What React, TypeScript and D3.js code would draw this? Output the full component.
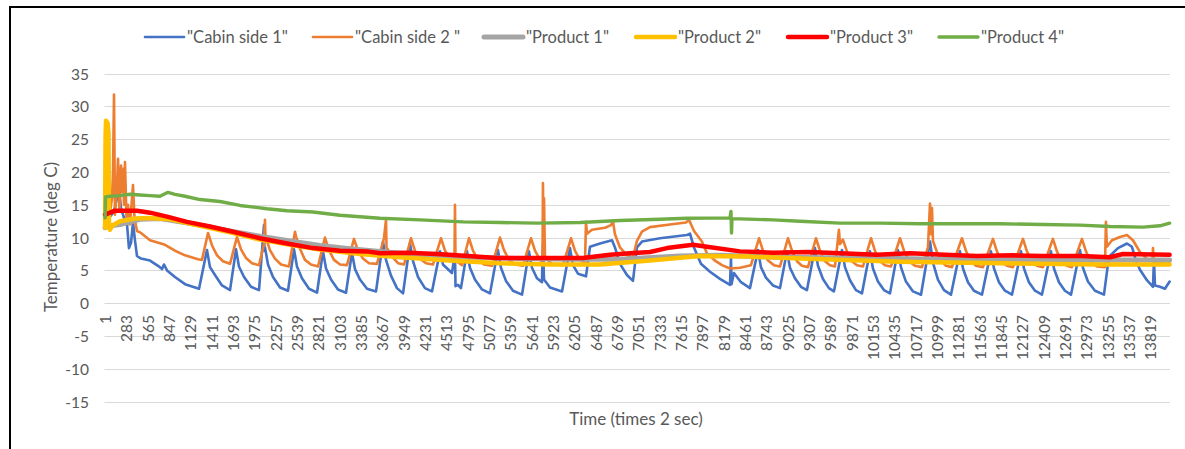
import React from 'react';
import * as d3 from 'd3';

const W = 1185;
const H = 449;

const yTicks = [-15, -10, -5, 0, 5, 10, 15, 20, 25, 30, 35];
const xTickLabels = [1, 283, 565, 847, 1129, 1411, 1693, 1975, 2257, 2539, 2821, 3103, 3385, 3667, 3949, 4231, 4513, 4795, 5077, 5359, 5641, 5923, 6205, 6487, 6769, 7051, 7333, 7615, 7897, 8179, 8461, 8743, 9025, 9307, 9589, 9871, 10153, 10435, 10717, 10999, 11281, 11563, 11845, 12127, 12409, 12691, 12973, 13255, 13537, 13819];
const seriesNames = ['"Cabin side 1"', '"Cabin side 2 "', '"Product 1"', '"Product 2"', '"Product 3"', '"Product 4"'];

type P = [number, number];

const cabinSide1: P[] = [[1,12.8],[66,13.2],[119,14.0],[159,16.0],[185,17.3],[212,14.5],[251,13.0],[291,12.0],[317,8.4],[344,9.2],[370,12.3],[397,9.5],[423,7.2],[476,6.8],[595,6.5],[701,5.7],[754,5.2],[780,5.9],[820,5.0],[925,4.0],[1058,2.9],[1243,2.2],
[1348,8.1],[1388,5.5],[1454,4.3],[1547,2.7],[1653,2.0],
[1732,8.2],[1771,5.6],[1838,4.0],[1930,2.5],[2036,2.0],
[2102,11.9],[2108,8.0],[2115,8.5],[2155,5.9],[2221,4.0],[2314,2.4],[2419,1.9],
[2499,8.2],[2538,5.6],[2604,3.8],[2697,2.2],[2803,1.6],
[2882,7.9],[2922,5.3],[2988,3.6],[3080,2.1],[3186,1.6],
[3265,7.7],[3305,5.2],[3371,3.6],[3464,2.2],[3583,1.8],
[3675,9.4],[3715,6.6],[3781,4.2],[3860,2.3],[3940,1.5],
[4032,9.1],[4072,6.4],[4138,4.0],[4230,2.3],[4323,1.8],
[4429,7.9],[4468,5.9],[4587,4.6],[4627,7.6],[4634,2.6],[4667,2.8],[4706,2.3],
[4786,7.9],[4825,5.4],[4891,3.6],[4984,2.1],[5090,1.5],
[5195,8.1],[5235,5.4],[5301,3.4],[5394,1.9],[5513,1.3],
[5605,7.9],[5645,5.4],[5711,3.8],[5777,3.2],[5790,8.9],[5804,3.6],[5883,2.4],[6042,1.8],
[6147,8.4],[6187,5.8],[6253,4.5],[6359,4.1],
[6412,8.6],[6544,9.1],[6703,9.6],[6742,8.5],[6808,6.0],[6901,4.3],[6980,3.4],
[7033,8.5],[7099,9.4],[7337,9.9],[7694,10.4],[7734,10.6],[7787,8.5],[7879,6.0],[7998,4.8],[8130,3.7],[8263,2.8],[8276,6.9],[8283,2.9],[8315,4.6],[8408,3.2],[8527,2.3],
[8633,8.1],[8672,5.5],[8738,3.9],[8831,2.7],[8924,2.3],
[9016,7.9],[9056,5.4],[9122,3.8],[9201,2.5],[9280,2.0],
[9386,8.4],[9426,5.7],[9492,3.7],[9571,2.3],[9637,1.8],
[9743,8.1],[9783,5.5],[9849,3.5],[9928,2.0],[10008,1.5],
[10113,7.9],[10153,5.3],[10219,3.3],[10298,2.0],[10378,1.5],
[10483,8.1],[10523,5.5],[10589,3.3],[10682,1.8],[10788,1.3],
[10907,9.4],[10946,6.2],[11012,3.6],[11092,2.0],[11184,1.3],
[11303,7.9],[11343,5.3],[11409,3.2],[11488,1.9],[11594,1.3],
[11713,7.9],[11753,5.3],[11819,3.2],[11898,1.9],[11991,1.3],
[12110,7.9],[12149,5.3],[12215,3.2],[12295,1.9],[12387,1.3],
[12506,7.9],[12546,5.3],[12612,3.2],[12691,1.9],[12771,1.3],
[12890,8.1],[12929,5.4],[12995,3.3],[13088,1.9],[13207,1.3],
[13273,7.1],[13392,8.4],[13511,9.1],[13577,8.6],[13630,6.5],[13683,5.1],[13775,3.5],[13855,2.5],[13868,6.6],[13881,2.7],[13947,2.5],[14013,2.2],[14075,3.3]];

const cabinSide2: P[] = [[1,13.0],[8,22.9],[20,12.0],[66,14.0],[93,16.0],[106,20.0],[119,31.8],[132,13.5],[159,18.0],[172,22.0],[192,14.0],[212,21.0],[225,17.0],[238,20.5],[251,15.0],[264,21.5],[284,13.0],[304,15.0],[330,12.0],[357,16.0],[370,18.0],[390,13.0],[423,11.0],[463,10.8],[595,9.6],[793,8.9],[925,8.0],[1058,7.3],[1229,6.7],[1282,6.6],
[1362,10.7],[1415,8.8],[1481,7.3],[1560,6.4],[1653,6.0],
[1745,10.1],[1798,8.2],[1864,6.9],[1943,6.1],[2036,5.8],
[2102,9.0],[2115,12.7],[2122,9.8],[2128,10.0],[2181,8.1],[2247,6.8],[2327,5.9],[2432,5.6],
[2512,10.9],[2525,10.2],[2578,8.3],[2644,6.6],[2723,5.9],[2816,5.6],
[2908,10.0],[2961,8.1],[3027,6.6],[3107,5.9],[3199,5.8],
[3292,9.8],[3345,8.0],[3411,6.8],[3490,6.1],[3596,6.0],
[3688,9.9],[3715,12.7],[3722,8.5],[3754,7.9],[3820,6.8],[3873,6.1],[3953,5.9],
[4045,9.9],[4098,8.0],[4164,6.8],[4244,6.1],[4336,5.9],
[4442,9.9],[4495,8.0],[4561,6.8],[4620,6.3],[4627,15.0],[4634,6.5],[4720,5.8],
[4812,9.9],[4865,8.0],[4931,6.6],[5010,5.9],[5116,5.7],
[5222,10.0],[5275,8.1],[5341,6.6],[5420,5.9],[5526,5.7],
[5632,9.9],[5685,8.0],[5751,6.6],[5784,6.3],[5790,18.3],[5797,11.0],[5804,16.0],[5817,7.0],[5909,6.0],[6055,5.8],
[6161,9.9],[6213,8.0],[6279,6.6],[6346,6.2],
[6359,12.4],[6372,10.6],[6438,11.2],[6610,11.5],[6690,11.9],[6716,12.5],[6742,10.5],[6808,8.5],[6901,7.3],[6980,7.0],
[7033,9.5],[7099,10.9],[7205,11.6],[7469,12.0],[7681,12.3],[7721,12.7],[7787,11.0],[7892,9.4],[7958,7.6],[8064,6.5],[8157,5.8],[8263,5.3],[8395,5.4],[8540,5.8],
[8646,9.9],[8699,8.0],[8765,6.5],[8844,5.8],[8924,5.6],
[9029,9.9],[9082,8.0],[9148,6.4],[9214,5.7],[9294,5.5],
[9399,9.9],[9452,8.0],[9518,6.4],[9585,5.8],[9651,5.6],
[9703,11.2],[9717,9.0],[9756,9.7],[9809,7.9],[9875,6.4],[9941,5.8],[10021,5.6],
[10127,9.9],[10179,8.0],[10246,6.4],[10312,5.8],[10391,5.6],
[10510,9.9],[10563,8.0],[10629,6.4],[10708,5.7],[10801,5.5],
[10880,8.5],[10907,15.2],[10920,10.5],[10933,14.5],[10946,9.5],[10999,7.8],[11065,6.3],[11118,5.7],[11197,5.5],
[11329,9.9],[11382,8.0],[11448,6.4],[11515,5.7],[11607,5.5],
[11739,9.8],[11792,7.9],[11858,6.3],[11924,5.7],[12004,5.5],
[12136,9.8],[12189,7.9],[12255,6.3],[12321,5.7],[12400,5.5],
[12532,9.8],[12585,7.9],[12651,6.3],[12718,5.7],[12784,5.5],
[12916,9.8],[12969,7.9],[13035,6.3],[13115,5.6],[13220,5.5],
[13233,12.4],[13246,8.6],[13313,9.6],[13419,10.1],[13511,10.4],[13590,9.6],[13683,7.8],[13788,6.6],[13848,6.5],[13855,8.4],[13868,6.5],[13947,6.2],[14013,6.0],[14075,6.1]];

const product1: P[] = [[1,11.5],[66,11.8],[198,12.0],[463,12.8],[727,12.9],[992,12.4],[1256,11.9],[1653,11.0],[2049,10.2],[2446,9.5],[2842,8.8],[3239,8.3],[3636,7.9],[4164,7.4],[4826,7.0],[5486,6.8],[6147,6.7],[6808,6.7],[7601,7.2],[8130,7.3],[8924,7.0],[9849,6.9],[11171,6.7],[12493,6.6],[14075,6.6]];

const product2: P[] = [[1,11.5],[7,25.0],[13,27.8],[33,27.5],[46,26.0],[53,12.0],[66,11.2],[93,11.8],[198,12.5],[397,12.9],[595,13.0],[859,12.8],[1256,11.8],[1653,10.8],[2049,9.7],[2446,8.9],[2842,8.2],[3371,7.5],[3900,7.0],[4561,6.5],[5222,6.1],[5883,5.9],[6544,5.9],[7205,6.5],[7866,7.2],[8527,7.1],[9188,6.8],[10510,6.3],[11832,6.1],[13154,5.9],[14075,5.9]];

const product3: P[] = [[1,13.5],[132,14.1],[423,14.1],[595,13.8],[820,13.2],[1084,12.4],[1388,11.7],[1692,10.9],[2049,9.9],[2406,9.1],[2750,8.4],[3107,8.0],[3464,7.9],[3636,7.6],[4000,7.7],[4389,7.5],[4800,7.2],[5182,6.9],[5711,6.9],[6319,6.9],[6676,7.4],[6941,7.6],[7205,7.8],[7429,8.4],[7773,8.9],[7958,8.6],[8395,7.9],[8831,7.7],[9300,7.8],[9717,7.6],[10200,7.4],[10642,7.6],[11100,7.4],[11528,7.2],[12000,7.3],[12400,7.2],[12900,7.2],[13286,7.0],[13458,7.5],[14075,7.4]];

const product4: P[] = [[1,13.0],[7,16.2],[66,16.3],[198,16.4],[330,16.6],[463,16.5],[595,16.4],[727,16.3],[833,16.9],[925,16.6],[1058,16.3],[1256,15.8],[1520,15.5],[1785,14.9],[2142,14.4],[2406,14.1],[2750,13.9],[3107,13.4],[3636,12.95],[4164,12.7],[4733,12.4],[5222,12.3],[5711,12.2],[6280,12.3],[6808,12.6],[7337,12.8],[7694,12.95],[8263,13.0],[8276,14.0],[8283,10.7],[8289,12.9],[8831,12.7],[9188,12.5],[9717,12.2],[10246,12.2],[10774,12.1],[11303,12.1],[11832,12.1],[12400,12.0],[12890,11.9],[13286,11.7],[13723,11.6],[13947,11.8],[14075,12.2]];

const seriesData = [cabinSide1, cabinSide2, product1, product2, product3, product4];
const colors = ['#4472C4', '#ED7D31', '#A5A5A5', '#FFC000', '#FF0000', '#70AD47'];
const widths = [2.6, 2.6, 5, 4.5, 4.5, 3.4];
const legendX = [145, 313, 484, 636, 788, 939];

const FONT = 'Lato, "Open Sans", sans-serif';
const TXT = '#595959';

export default function App() {
  const x = d3.scaleLinear().domain([0, 14080]).range([105, 1170]);
  const y = d3.scaleLinear().domain([-15, 35]).range([401.6, 73.6]);
  const line = d3.line<P>().x(d => x(d[0])).y(d => y(d[1]));

  return (
    <svg width={W} height={H} style={{ position: 'absolute', left: 0, top: 0, background: '#fff' }} fontFamily={FONT}>
      <rect x={0} y={0} width={W} height={H} fill="#fff" />
      <rect x={10} y={7} width={1200} height={500} fill="none" stroke="#000" strokeWidth={2} />
      {yTicks.map(t => (
        <g key={t}>
          <line x1={104.5} x2={1170} y1={Math.round(y(t)) + 0.5} y2={Math.round(y(t)) + 0.5} stroke="#d9d9d9" strokeWidth={1} />
          <text x={89} y={y(t)} textAnchor="end" dominantBaseline="central" fontSize={15.5} fill={TXT}>{t}</text>
        </g>
      ))}
      {xTickLabels.map(t => (
        <text key={t} transform={`translate(${x(t)},315) rotate(-90)`} textAnchor="end" dominantBaseline="central" fontSize={15.5} fill={TXT}>{t}</text>
      ))}
      <text transform="translate(50,237) rotate(-90)" textAnchor="middle" dominantBaseline="central" fontSize={17} fill={TXT}>Temperature (deg C)</text>
      <text x={636} y={418} textAnchor="middle" dominantBaseline="central" fontSize={17} fill={TXT}>Time (times 2 sec)</text>
      {seriesData.map((d, i) => (
        <path key={i} d={line(d) || ''} fill="none" stroke={colors[i]} strokeWidth={widths[i]} strokeLinejoin="round" strokeLinecap="round" />
      ))}
      {seriesNames.map((n, i) => (
        <g key={n}>
          <line x1={legendX[i]} x2={legendX[i] + 39} y1={37} y2={37} stroke={colors[i]} strokeWidth={widths[i]} strokeLinecap="round" />
          <text x={legendX[i] + 42} y={37} dominantBaseline="central" fontSize={16.5} fill={TXT}>{n}</text>
        </g>
      ))}
    </svg>
  );
}
